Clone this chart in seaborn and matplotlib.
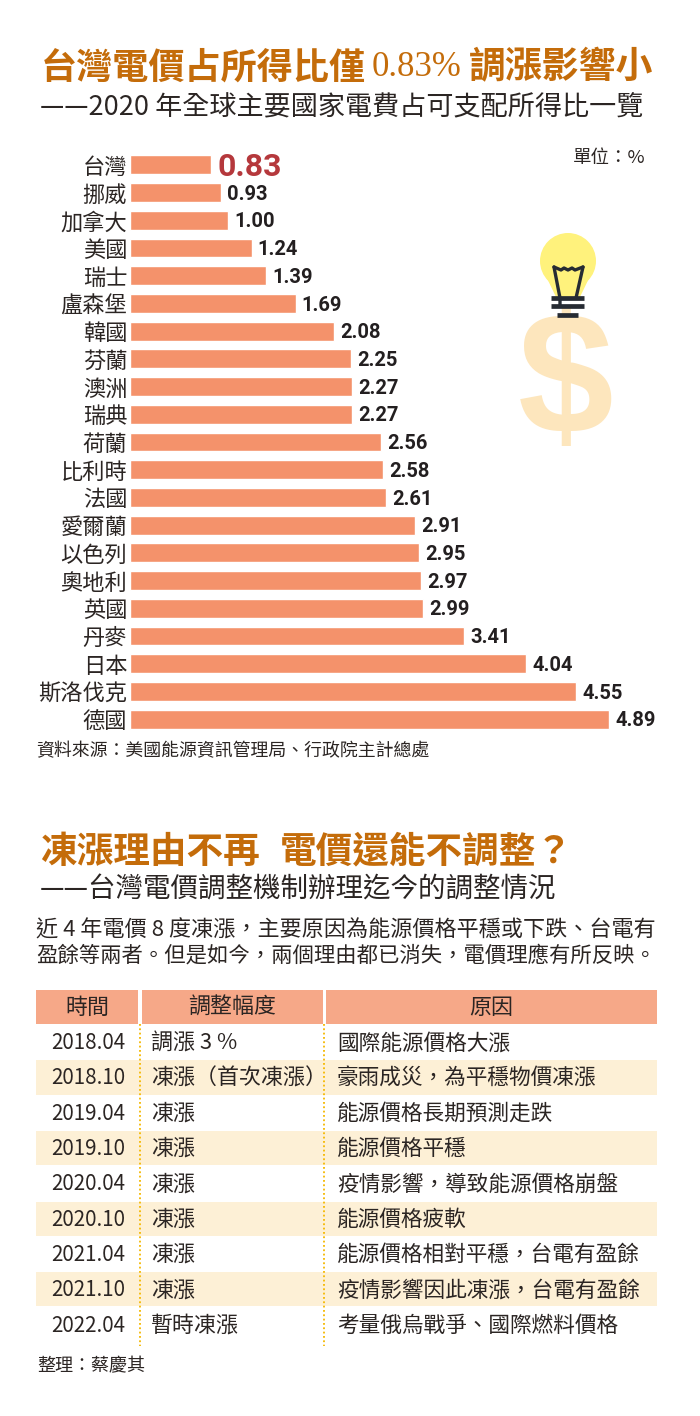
import matplotlib
matplotlib.use("Agg")
import matplotlib.pyplot as plt
import matplotlib.patches as mpatches
import pandas as pd
import seaborn as sns

# chart data
countries = ["台灣", "挪威", "加拿大", "美國", "瑞士", "盧森堡", "韓國", "芬蘭", "澳洲", "瑞典", "荷蘭",
             "比利時", "法國", "愛爾蘭", "以色列", "奧地利", "英國", "丹麥", "日本", "斯洛伐克", "德國"]
shares = [0.83, 0.93, 1.00, 1.24, 1.39, 1.69, 2.08, 2.25, 2.27, 2.27, 2.56,
          2.58, 2.61, 2.91, 2.95, 2.97, 2.99, 3.41, 4.04, 4.55, 4.89]

# table data
table_head = ["時間", "調整幅度", "原因"]
table_time = ["2018.04", "2018.10", "2019.04", "2019.10", "2020.04", "2020.10", "2021.04", "2021.10", "2022.04"]
table_change = ["調漲 3 %", "凍漲（首次凍漲）", "凍漲", "凍漲", "凍漲", "凍漲", "凍漲", "凍漲", "暫時凍漲"]
table_reason = ["國際能源價格大漲", "豪雨成災，為平穩物價凍漲", "能源價格長期預測走跌", "能源價格平穩",
                "疫情影響，導致能源價格崩盤", "能源價格疲軟", "能源價格相對平穩，台電有盈餘",
                "疫情影響因此凍漲，台電有盈餘", "考量俄烏戰爭、國際燃料價格"]

sns.set_theme(style="white")
plt.rcParams['font.family'] = ['Noto Sans CJK TC', 'DejaVu Sans']

W, H = 700, 1416
fig = plt.figure(figsize=(W / 100, H / 100), dpi=100, facecolor="white")

# overlay in pixel coordinates for the text blocks and the table
bg = fig.add_axes([0, 0, 1, 1])
bg.set_xlim(0, W)
bg.set_ylim(H, 0)
bg.axis("off")

TITLE = "#c46c0a"
INK = "#2b2523"

# titles
bg.text(41, 68, "台灣電價占所得比僅", fontsize=26, color=TITLE, fontweight="bold", va="center")
bg.text(372, 68, "0.83%", fontsize=25, color=TITLE, family="Liberation Serif", va="center")
bg.text(469, 68, "調漲影響小", fontsize=26.6, color=TITLE, fontweight="bold", va="center")
bg.text(40, 108, "——2020 年全球主要國家電費占可支配所得比一覽", fontsize=19.5, color=INK, va="center")
bg.text(645, 158, "單位：%", fontsize=13.3, color=INK, va="center", ha="right")
bg.text(36, 751, "資料來源：美國能源資訊管理局、行政院主計總處", fontsize=12.9, color=INK, va="center")

bg.text(40, 852, "凍漲理由不再", fontsize=26.4, color=TITLE, fontweight="bold", va="center")
bg.text(280, 852, "電價還能不調整？", fontsize=26.4, color=TITLE, fontweight="bold", va="center")
bg.text(40, 890, "——台灣電價調整機制辦理迄今的調整情況", fontsize=19.8, color=INK, va="center")
bg.text(36, 930.5, "近 4 年電價 8 度凍漲，主要原因為能源價格平穩或下跌、台電有", fontsize=15.9, color=INK, va="center")
bg.text(36, 956, "盈餘等兩者。但是如今，兩個理由都已消失，電價理應有所反映。", fontsize=15.4, color=INK, va="center")
bg.text(37, 1366, "整理：蔡慶其", fontsize=13, color=INK, va="center")

# lightbulb and dollar sign
bg.text(566, 388, "$", fontsize=124, color="#fde6bd", family="Liberation Sans", fontweight="bold",
        ha="center", va="center", zorder=1)
bg.add_patch(mpatches.Ellipse((568, 261), 56, 56, color="#fff27c", lw=0, zorder=2))
bg.add_patch(mpatches.Polygon([[543, 270], [593, 270], [580, 297], [556, 297]], color="#fff27c", lw=0, zorder=2))
bg.plot([554, 561, 564, 568, 572, 575, 583], [267, 270, 268, 270, 268, 270, 267], color="#262b33", lw=2.4, zorder=3)
bg.plot([554, 560, 560], [267, 298, 306], color="#262b33", lw=2.4, zorder=3)
bg.plot([583, 576], [267, 298], color="#262b33", lw=2.4, zorder=3)
for y0, x0, x1 in [(298, 551, 584), (306, 551, 584), (315, 557, 578)]:
    bg.plot([x0, x1], [y0, y0], color="#262b33", lw=3.4, zorder=3, solid_capstyle="butt")

# table
left, right = 36, 657
cols = [(36, 138), (142, 323), (326, 657)]
for (x0, x1), name in zip(cols, table_head):
    bg.add_patch(mpatches.Rectangle((x0, 990), x1 - x0, 34, color="#f6a888", lw=0))
    bg.text((x0 + x1) / 2, 1008, name, fontsize=15.8, color=INK, ha="center", va="center")
row_h = 35.3
for i in range(len(table_time)):
    top = 1024 + i * row_h
    mid = top + row_h / 2 + 1.5
    if i % 2 == 1:
        bg.add_patch(mpatches.Rectangle((left, top + 1), right - left, row_h - 1, color="#fdf0d6", lw=0, zorder=0))
    bg.text(51, mid, table_time[i], fontsize=14.8, color=INK, va="center")
    bg.text(151, mid, table_change[i], fontsize=15.8, color=INK, va="center")
    bg.text(337, mid, table_reason[i], fontsize=15.6, color=INK, va="center")
for x in [140, 324]:
    bg.plot([x, x], [1024, 1346], color="#f5b800", lw=1.3, ls=(0, (1, 1.4)))

# bar chart, one px = one px on the figure
df = pd.DataFrame({"country": countries, "share": shares})
ax = fig.add_axes([130 / W, 1 - 733 / H, 570 / W, 582 / H])
ax.patch.set_alpha(0)
sns.barplot(data=df, y="country", x="share", color="#f4926b", saturation=1, width=0.68, ax=ax)
ax.set_xlim(0, 570 / 98)
ax.set_ylim(20.5, -0.5)
ax.set_xlabel("")
ax.set_ylabel("")
ax.set_xticks([])
ax.tick_params(axis="y", length=0, pad=2, labelsize=16, labelcolor=INK)
sns.despine(ax=ax, left=True, bottom=True)
labels = ax.bar_label(ax.containers[0], fmt="%.2f", padding=4, fontsize=14.5, fontweight="bold",
                      color="#231f20", family="Roboto")
labels[0].set_fontsize(23)
labels[0].set_color("#b5383c")
for lab in labels:
    lab.xyann = (4.5, -1.2)

fig.savefig("out.png", dpi=100)
